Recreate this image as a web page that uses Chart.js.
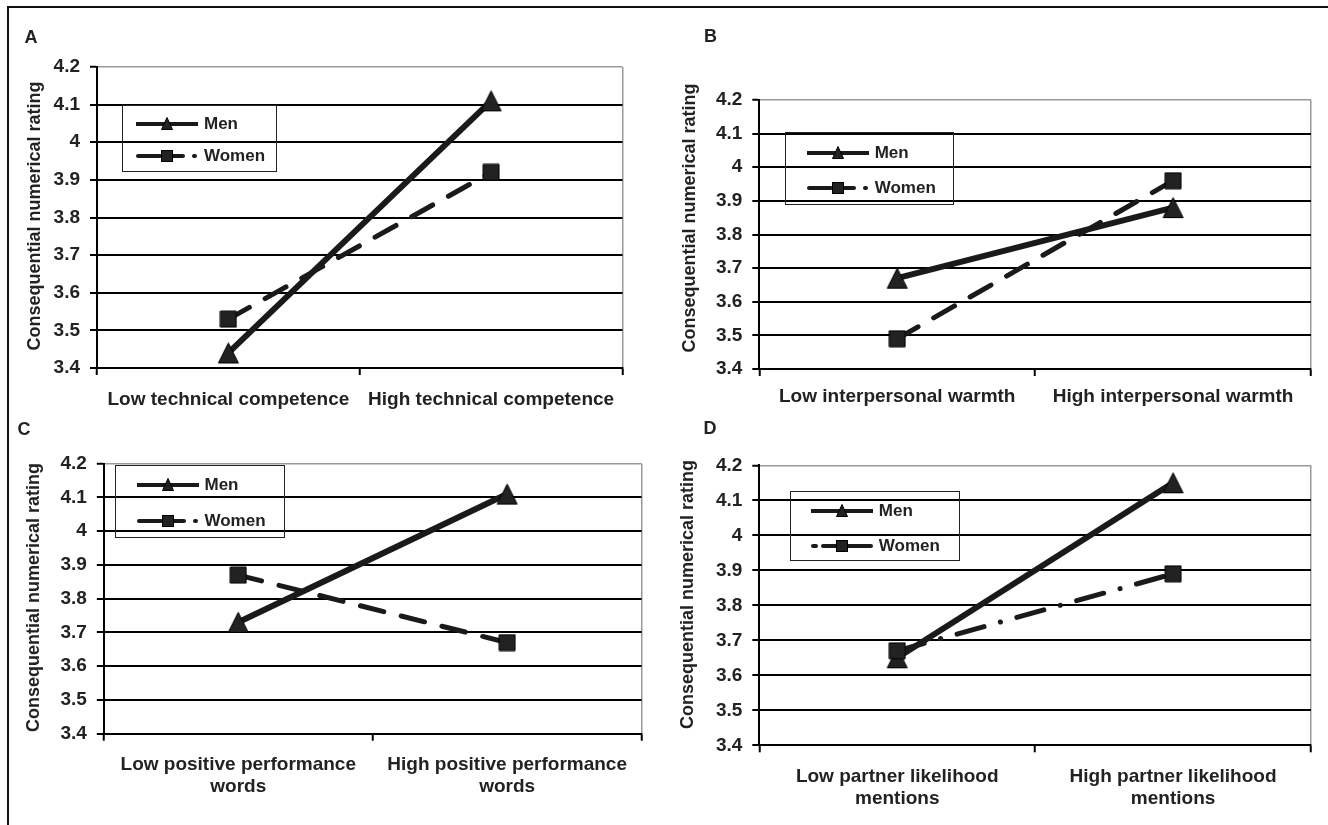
<!DOCTYPE html>
<html>
<head>
<meta charset="utf-8">
<script src="https://cdn.jsdelivr.net/npm/chart.js@4/dist/chart.umd.min.js"></script>
<style>
body { margin:0; background:#fff; width:1328px; height:825px; overflow:hidden; position:relative; font-family:"Liberation Sans", Arial, sans-serif; }
#frame { position:absolute; left:7px; top:6px; width:1340px; height:840px; border-top:2px solid #111; border-left:2px solid #111; }
canvas { position:absolute; }
.legend { position:absolute; border:1.5px solid #222; box-sizing:border-box; }
.row { position:absolute; height:20px; display:flex; align-items:center; font-weight:bold; font-size:17px; color:#222; white-space:nowrap; }
.row svg { display:block; margin-right:6px; }
</style>
</head>
<body>
<div id="frame"></div>
<canvas id="chartA"></canvas>
<canvas id="chartB"></canvas>
<canvas id="chartC"></canvas>
<canvas id="chartD"></canvas>
<script>
// data
var seriesNames = ["Men", "Women"];
var yTitle = "Consequential numerical rating";
var yMin = 3.4, yMax = 4.2, yStep = 0.1;

var categoriesA = ["Low technical competence", "High technical competence"];
var menA = [3.44, 4.11];
var womenA = [3.53, 3.92];

var categoriesB = ["Low interpersonal warmth", "High interpersonal warmth"];
var menB = [3.67, 3.88];
var womenB = [3.49, 3.96];

var categoriesC = [["Low positive performance", "words"], ["High positive performance", "words"]];
var menC = [3.73, 4.11];
var womenC = [3.87, 3.67];

var categoriesD = [["Low partner likelihood", "mentions"], ["High partner likelihood", "mentions"]];
var menD = [3.65, 4.15];
var womenD = [3.67, 3.89];

Chart.defaults.font.family = '"Liberation Sans", Arial, sans-serif';
Chart.defaults.color = "#222";

var ink = "#1a1a1a";

// marker images, centred on their box like the spreadsheet markers
function markerCanvas(kind){
    var c = document.createElement("canvas");
    var g;
    if(kind === "triangle"){
        c.width = 23; c.height = 23;
        g = c.getContext("2d");
        g.beginPath();
        g.moveTo(1.5, 21.5); g.lineTo(21.5, 21.5); g.lineTo(11.5, 1.5); g.closePath();
    } else {
        c.width = 18; c.height = 18;
        g = c.getContext("2d");
        g.beginPath();
        g.rect(1, 1, 16, 16);
    }
    g.fillStyle = "#222";
    g.fill();
    g.lineWidth = 1;
    g.strokeStyle = "#000";
    g.stroke();
    return c;
}
var triMarker = markerCanvas("triangle");
var sqMarker = markerCanvas("square");

var panelText = {
    id: "panelText",
    afterDraw: function(chart, args, opts){
        var c = chart.ctx;
        c.save();
        c.fillStyle = "#222";
        c.font = 'bold 18px "Liberation Sans", Arial, sans-serif';
        c.textAlign = "center";
        c.textBaseline = "middle";
        c.fillText(opts.letter, opts.letterX, opts.letterY);
        c.translate(opts.titleX, opts.titleY);
        c.rotate(-Math.PI / 2);
        c.fillText(yTitle, 0, 0);
        c.restore();
    }
};

function menSample(){
    return '<svg width="62" height="20"><line x1="0" y1="10" x2="62" y2="10" stroke="' + ink + '" stroke-width="4" stroke-linecap="round"/>' +
        '<polygon points="25.5,15.5 36.5,15.5 31,3.5" fill="#222" stroke="#000" stroke-width="1"/></svg>';
}
function womenSample(dashDot){
    var s = '<svg width="62" height="20">';
    if(dashDot){
        s += '<line x1="2" y1="10" x2="5" y2="10" stroke="' + ink + '" stroke-width="4" stroke-linecap="round"/>';
        s += '<line x1="12" y1="10" x2="60" y2="10" stroke="' + ink + '" stroke-width="4" stroke-linecap="round"/>';
    } else {
        s += '<line x1="2" y1="10" x2="24" y2="10" stroke="' + ink + '" stroke-width="4" stroke-linecap="round"/>';
        s += '<line x1="36" y1="10" x2="47" y2="10" stroke="' + ink + '" stroke-width="4" stroke-linecap="round"/>';
        s += '<line x1="58" y1="10" x2="59" y2="10" stroke="' + ink + '" stroke-width="4" stroke-linecap="round"/>';
    }
    s += '<rect x="25.5" y="4.5" width="11" height="11" fill="#222" stroke="#000" stroke-width="1"/></svg>';
    return s;
}

function makeLegend(lg, dashDot){
    var box = document.createElement("div");
    box.className = "legend";
    box.style.left = lg.x + "px";
    box.style.top = lg.y + "px";
    box.style.width = lg.w + "px";
    box.style.height = lg.h + "px";
    var samples = [menSample(), womenSample(dashDot)];
    for(var i = 0; i < 2; i++){
        var row = document.createElement("div");
        row.className = "row";
        row.style.left = lg.sx + "px";
        row.style.top = (lg.rows[i] - 10) + "px";
        row.innerHTML = samples[i] + "<span>" + seriesNames[i] + "</span>";
        box.appendChild(row);
    }
    document.body.appendChild(box);
}

function isTop(ctx){ return ctx.tick && Math.abs(ctx.tick.value - yMax) < 1e-6; }

function makePanel(p){
    var cv = document.getElementById(p.id);
    cv.width = 664; cv.height = p.h;
    cv.style.left = p.x + "px";
    cv.style.top = p.y + "px";
    cv.style.width = "664px";
    cv.style.height = p.h + "px";

    var a = p.area;
    var config = {
        type: "line",
        data: {
            labels: p.cats,
            datasets: [{
                label: seriesNames[1],
                data: p.women,
                borderColor: ink,
                borderWidth: 5,
                borderDash: p.dash,
                borderCapStyle: "round",
                pointStyle: sqMarker,
                pointRadius: 9
            },{
                label: seriesNames[0],
                data: p.men,
                borderColor: ink,
                borderWidth: 6,
                pointStyle: triMarker,
                pointRadius: 11
            }]
        },
        options: {
            responsive: false,
            animation: false,
            layout: { padding: { left: 0, top: a.t, right: 664 - a.r, bottom: 0 } },
            plugins: {
                legend: { display: false },
                tooltip: { enabled: false },
                panelText: { letter: p.letter, letterX: p.letterXY[0], letterY: p.letterXY[1], titleX: p.titleXY[0], titleY: p.titleXY[1] }
            },
            scales: {
                x: {
                    offset: true,
                    afterFit: function(s){ s.height = p.h - a.b; },
                    border: { color: "#000", width: 2 },
                    grid: {
                        offset: true,
                        color: function(ctx){ return ctx.type === "tick" ? "rgba(0,0,0,0)" : "#999"; },
                        lineWidth: 1.5,
                        tickColor: "#000",
                        tickWidth: 2,
                        tickLength: 7
                    },
                    ticks: {
                        autoSkip: false, maxRotation: 0, padding: p.xPad,
                        color: "#222",
                        font: { size: 19, weight: "bold", lineHeight: 1.15 }
                    }
                },
                y: {
                    min: yMin, max: yMax,
                    afterFit: function(s){ s.width = a.l; },
                    border: { color: "#000", width: 2 },
                    grid: {
                        color: function(ctx){ return isTop(ctx) ? "#999" : "#000"; },
                        lineWidth: function(ctx){ return isTop(ctx) ? 1.5 : 2; },
                        tickColor: "#000",
                        tickWidth: 2,
                        tickLength: 7
                    },
                    ticks: {
                        stepSize: yStep, padding: 10,
                        color: "#222",
                        font: { size: 19, weight: "bold" },
                        callback: function(v){ return String(Math.round(v * 10) / 10); }
                    }
                }
            }
        },
        plugins: [panelText]
    };
    new Chart(cv.getContext("2d"), config);
    makeLegend(p.legend, p.dashDot);
}

var dashLong = [24, 18];
var dashDot = [28, 17, 0.1, 17];

makePanel({ id: "chartA", x: 0, y: 0, h: 412, letter: "A", cats: categoriesA, men: menA, women: womenA, dash: dashLong,
    area: { l: 97, t: 67, r: 622.5, b: 368 }, letterXY: [31, 38], titleXY: [35, 216], xPad: 14,
    legend: { x: 122, y: 105, w: 155, h: 67, sx: 13, rows: [17.7, 50.3] } });
makePanel({ id: "chartB", x: 664, y: 0, h: 412, letter: "B", cats: categoriesB, men: menB, women: womenB, dash: dashLong,
    area: { l: 95.3, t: 100, r: 648, b: 369 }, letterXY: [46.5, 37], titleXY: [26, 218], xPad: 10,
    legend: { x: 784.7, y: 131.7, w: 169.3, h: 73.3, sx: 21, rows: [20, 55] } });
makePanel({ id: "chartC", x: 0, y: 412, h: 413, letter: "C", cats: categoriesC, men: menC, women: womenC, dash: dashLong,
    area: { l: 103.8, t: 51.7, r: 641.6, b: 321.7 }, letterXY: [24, 18], titleXY: [34, 185.5], xPad: 13.5,
    legend: { x: 115, y: 464.7, w: 169.6, h: 73.3, sx: 20.5, rows: [19, 55.6] } });
makePanel({ id: "chartD", x: 664, y: 412, h: 413, letter: "D", cats: categoriesD, men: menD, women: womenD, dash: dashDot, dashDot: true,
    area: { l: 95.3, t: 53.3, r: 648, b: 333.3 }, letterXY: [46, 17], titleXY: [24.5, 182.5], xPad: 14,
    legend: { x: 789.8, y: 491.3, w: 169.8, h: 70, sx: 20, rows: [19, 53.4] } });
</script>
</body>
</html>
